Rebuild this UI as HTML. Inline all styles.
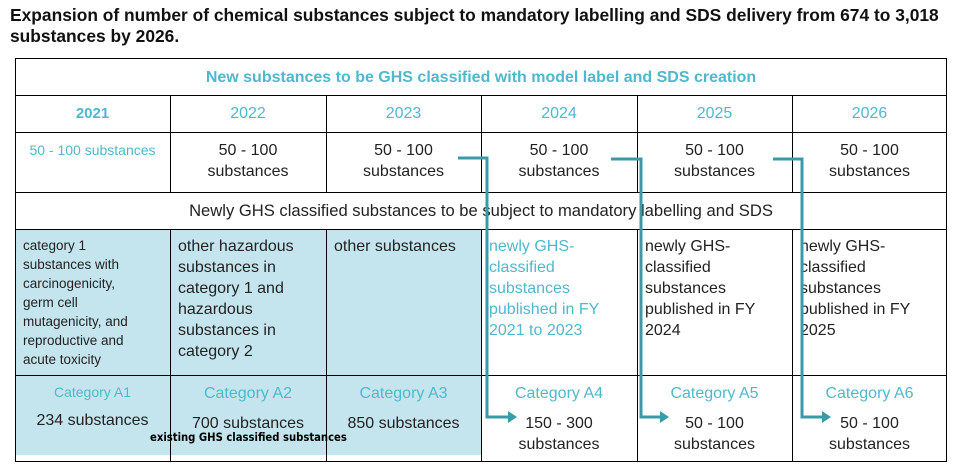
<!DOCTYPE html>
<html><head><meta charset="utf-8"><style>
body{margin:0;background:#fff;width:957px;height:475px;position:relative;overflow:hidden;font-family:"Liberation Sans",sans-serif;}
.t{position:absolute;left:10px;top:5px;font-weight:bold;font-size:17.4px;line-height:21px;color:#111;width:945px}
.a{position:absolute;}
.c{position:absolute;text-align:center;font-size:16px;line-height:21px;color:#222}
.tl{color:#4fb8cc}
.l{position:absolute;background:#000}
</style></head><body>
<div class="t">Expansion of number of chemical substances subject to mandatory labelling and SDS delivery from 674 to 3,018 substances by 2026.</div>
<div class="a" style="left:15px;top:229px;width:466px;height:226px;background:#c5e5ee"></div>
<div class="a" style="left:15px;top:58px;width:932px;height:404px;border:1px solid #000;box-sizing:border-box"></div>
<div class="l" style="left:15px;top:95px;width:932px;height:1px"></div>
<div class="l" style="left:15px;top:132px;width:932px;height:1px"></div>
<div class="l" style="left:15px;top:192px;width:932px;height:1px"></div>
<div class="l" style="left:15px;top:229px;width:932px;height:1px"></div>
<div class="l" style="left:15px;top:375px;width:932px;height:1px"></div>
<div class="l" style="left:170px;top:95px;width:1px;height:97px"></div>
<div class="l" style="left:326px;top:95px;width:1px;height:97px"></div>
<div class="l" style="left:481px;top:95px;width:1px;height:97px"></div>
<div class="l" style="left:637px;top:95px;width:1px;height:97px"></div>
<div class="l" style="left:792px;top:95px;width:1px;height:97px"></div>
<div class="l" style="left:170px;top:229px;width:1px;height:233px"></div>
<div class="l" style="left:326px;top:229px;width:1px;height:233px"></div>
<div class="l" style="left:481px;top:229px;width:1px;height:233px"></div>
<div class="l" style="left:637px;top:229px;width:1px;height:233px"></div>
<div class="l" style="left:792px;top:229px;width:1px;height:233px"></div>

<div class="c tl" style="left:15px;top:67px;width:932px;font-weight:bold">New substances to be GHS classified with model label and SDS creation</div>
<div class="c tl" style="left:15px;top:103px;width:155px;font-weight:bold;font-size:15px">2021</div>
<div class="c tl" style="left:170px;top:103px;width:156px">2022</div>
<div class="c tl" style="left:326px;top:103px;width:155px">2023</div>
<div class="c tl" style="left:481px;top:103px;width:156px">2024</div>
<div class="c tl" style="left:637px;top:103px;width:155px">2025</div>
<div class="c tl" style="left:792px;top:103px;width:155px">2026</div>
<div class="c tl" style="left:15px;top:140px;width:155px;font-size:14px">50 - 100 substances</div>
<div class="c" style="left:170px;top:140px;width:156px">50 - 100<br>substances</div>
<div class="c" style="left:326px;top:140px;width:155px">50 - 100<br>substances</div>
<div class="c" style="left:481px;top:140px;width:156px">50 - 100<br>substances</div>
<div class="c" style="left:637px;top:140px;width:155px">50 - 100<br>substances</div>
<div class="c" style="left:792px;top:140px;width:155px">50 - 100<br>substances</div>
<div class="c" style="left:15px;top:200px;width:932px;font-size:16.6px">Newly GHS classified substances to be subject to mandatory labelling and SDS</div>

<div class="c" style="left:23px;top:236px;width:145px;text-align:left;font-size:13.5px;line-height:19px">category 1<br>substances with<br>carcinogenicity,<br>germ cell<br>mutagenicity, and<br>reproductive and<br>acute toxicity</div>
<div class="c" style="left:178px;top:236px;width:145px;text-align:left">other hazardous<br>substances in<br>category 1 and<br>hazardous<br>substances in<br>category 2</div>
<div class="c" style="left:334px;top:236px;width:145px;text-align:left">other substances</div>
<div class="c tl" style="left:489px;top:236px;width:145px;text-align:left">newly GHS-<br>classified<br>substances<br>published in FY<br>2021 to 2023</div>
<div class="c" style="left:645px;top:236px;width:145px;text-align:left">newly GHS-<br>classified<br>substances<br>published in FY<br>2024</div>
<div class="c" style="left:800px;top:236px;width:145px;text-align:left">newly GHS-<br>classified<br>substances<br>published in FY<br>2025</div>

<div class="c tl" style="left:15px;top:382px;width:155px;font-size:14px">Category A1</div>
<div class="c tl" style="left:170px;top:383px;width:156px">Category A2</div>
<div class="c tl" style="left:326px;top:383px;width:155px">Category A3</div>
<div class="c tl" style="left:481px;top:383px;width:156px">Category A4</div>
<div class="c tl" style="left:637px;top:383px;width:155px">Category A5</div>
<div class="c tl" style="left:792px;top:383px;width:155px">Category A6</div>
<div class="c" style="left:15px;top:410px;width:155px">234 substances</div>
<div class="c" style="left:170px;top:413px;width:156px">700 substances</div>
<div class="c" style="left:326px;top:413px;width:155px">850 substances</div>
<div class="c" style="left:481px;top:413px;width:156px">150 - 300<br>substances</div>
<div class="c" style="left:637px;top:413px;width:155px">50 - 100<br>substances</div>
<div class="c" style="left:792px;top:413px;width:155px">50 - 100<br>substances</div>
<div class="c" style="left:150px;top:430px;width:200px;text-align:left;font-size:11.2px;font-weight:bold;color:#000;font-family:'DejaVu Sans Condensed','Liberation Sans',sans-serif;white-space:nowrap;line-height:16px">existing GHS classified substances</div>

<svg class="a" style="left:0;top:0" width="957" height="475">
<g fill="none" stroke="#3a9aa8" stroke-width="3">
<polyline points="458,158 487,158 487,417 510,417"/>
<polyline points="611,159 641,159 641,417 662,417"/>
<polyline points="773,159 802,159 802,417 824,417"/>
</g>
<g fill="#3a9aa8">
<polygon points="508,411 517,417 508,423"/>
<polygon points="660,411 669,417 660,423"/>
<polygon points="822,411 831,417 822,423"/>
</g>
</svg>
</body></html>
